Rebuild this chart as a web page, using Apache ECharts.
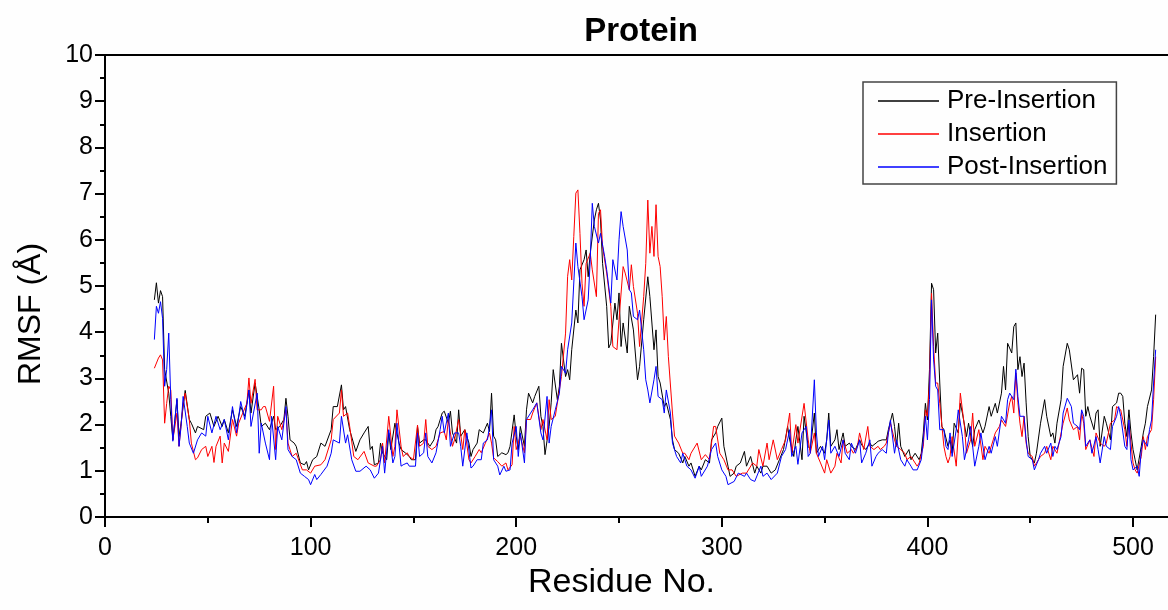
<!DOCTYPE html>
<html>
<head>
<meta charset="utf-8">
<script src="https://cdn.jsdelivr.net/npm/echarts@6/dist/echarts.min.js"></script>
<style>
html,body{margin:0;padding:0;background:#fefefe;}
#chart{width:1168px;height:610px;}
</style>
</head>
<body>
<div id="chart"></div>
<script>
const chartTitle = 'Protein';
const xAxisName = 'Residue No.';
const yAxisName = 'RMSF (\u00C5)';
const seriesNames = ['Pre-Insertion', 'Insertion', 'Post-Insertion'];
const xMajorTicks = [0, 100, 200, 300, 400, 500];
const xMinorTicks = [50, 150, 250, 350, 450];

const preInsertion = [[24,4.70],[25,5.07],[26,4.63],[27,4.90],[28,4.77],[29,3.19],[31,2.68],[32,2.18],[33,1.67],[35,2.54],[36,1.74],[37,2.03],[39,2.74],[41,2.11],[42,2.03],[44,1.82],[45,1.96],[48,1.89],[49,2.18],[51,2.25],[53,1.96],[55,2.18],[57,1.96],[58,2.11],[60,1.82],[62,2.32],[64,1.96],[66,2.39],[68,2.18],[70,2.75],[71,2.25],[73,2.90],[75,2.32],[76,1.96],[78,2.03],[80,1.89],[82,2.18],[83,1.89],[85,1.96],[87,2.11],[88,2.57],[89,2.18],[90,1.67],[92,1.60],[93,1.53],[95,1.17],[97,1.13],[98,1.20],[99,1.02],[101,1.24],[103,1.31],[105,1.60],[107,1.53],[110,1.89],[111,2.39],[113,2.39],[115,2.86],[116,2.32],[117,2.39],[119,1.89],[122,1.42],[124,1.67],[126,1.82],[128,1.96],[129,1.46],[130,1.53],[131,1.13],[133,1.17],[134,1.60],[135,1.39],[137,1.24],[138,1.82],[139,1.46],[141,2.03],[143,1.60],[144,1.46],[146,1.39],[148,1.31],[149,1.24],[151,1.24],[152,1.96],[153,1.60],[155,1.67],[156,1.67],[158,1.53],[160,1.67],[161,1.89],[162,1.96],[164,2.25],[165,2.29],[167,2.03],[168,2.29],[169,1.82],[171,1.60],[172,2.32],[173,1.75],[175,1.89],[177,1.60],[178,1.31],[179,1.46],[181,1.60],[182,1.89],[184,1.82],[186,2.03],[187,1.85],[188,2.68],[189,1.75],[190,1.67],[191,1.31],[193,1.39],[195,1.35],[196,1.39],[197,1.53],[199,2.21],[200,1.75],[201,1.46],[202,1.96],[204,1.53],[205,2.32],[206,2.68],[208,2.47],[209,2.61],[211,2.83],[212,2.18],[213,1.96],[214,1.35],[216,1.96],[217,2.47],[218,3.19],[220,2.54],[221,2.83],[222,3.76],[224,3.04],[225,3.19],[226,2.97],[227,3.62],[229,4.48],[230,4.20],[231,5.35],[233,5.57],[234,5.78],[235,5.20],[236,5.71],[238,6.43],[239,6.65],[240,6.79],[241,6.43],[242,5.49],[244,4.56],[245,3.66],[246,3.76],[248,4.63],[249,4.27],[250,4.85],[251,3.69],[252,4.20],[254,3.55],[255,4.56],[257,4.05],[259,2.97],[260,3.26],[262,4.27],[264,5.20],[265,4.77],[267,3.62],[268,4.05],[269,3.04],[270,2.90],[272,2.39],[273,2.47],[275,2.11],[276,1.67],[277,1.46],[279,1.38],[281,1.17],[282,1.31],[284,1.10],[285,1.17],[287,0.88],[289,1.10],[290,1.02],[292,1.24],[294,1.17],[295,1.67],[297,1.82],[298,1.96],[300,2.14],[301,1.53],[303,1.10],[304,0.88],[306,0.95],[307,1.10],[309,1.17],[311,1.42],[312,1.10],[314,1.31],[316,0.95],[317,1.10],[319,0.95],[320,1.10],[322,1.10],[324,0.95],[326,1.02],[328,1.24],[330,1.46],[332,1.96],[333,1.67],[335,1.31],[336,1.67],[337,1.96],[339,1.24],[340,2.18],[342,1.53],[343,1.46],[345,2.25],[346,1.38],[348,1.53],[350,1.38],[351,1.67],[352,2.25],[353,1.53],[355,1.67],[356,1.89],[357,1.46],[359,1.82],[360,1.53],[362,1.60],[363,1.53],[365,1.46],[367,1.67],[368,1.56],[370,1.46],[372,1.60],[373,1.53],[375,1.60],[376,1.64],[378,1.67],[380,1.67],[381,1.89],[383,2.25],[384,1.96],[385,1.53],[386,2.03],[387,1.53],[389,1.31],[391,1.46],[392,1.24],[394,1.38],[396,1.24],[397,1.38],[398,1.82],[399,2.46],[400,2.10],[401,3.19],[402,5.06],[403,4.92],[404,3.55],[405,3.98],[406,2.90],[407,1.96],[408,1.89],[410,1.53],[411,1.67],[412,1.38],[413,2.03],[415,1.82],[416,2.46],[417,2.25],[419,1.74],[420,2.03],[422,1.53],[423,1.89],[425,2.10],[427,1.82],[428,1.96],[430,2.39],[431,2.18],[433,2.46],[434,2.25],[436,2.68],[437,3.26],[438,2.75],[439,3.76],[441,3.55],[442,4.12],[443,4.20],[444,3.19],[445,3.47],[446,3.04],[447,3.33],[448,2.47],[449,1.74],[450,1.31],[452,1.17],[453,1.38],[455,2.03],[457,2.54],[458,2.18],[460,1.74],[461,1.82],[462,1.60],[463,2.03],[465,2.54],[466,3.26],[468,3.76],[469,3.62],[471,2.97],[473,3.08],[474,2.68],[475,3.22],[476,3.19],[477,2.18],[478,2.39],[479,2.18],[481,1.89],[482,2.25],[483,2.32],[484,1.53],[486,2.18],[487,2.03],[489,1.67],[490,2.39],[492,2.47],[493,2.68],[494,2.68],[495,2.61],[496,2.03],[497,1.74],[498,2.32],[499,1.82],[500,1.46],[501,1.24],[502,1.02],[504,1.53],[505,1.82],[506,2.03],[507,2.39],[509,2.75],[510,3.47],[511,4.38]];

const insertion = [[24,3.22],[26,3.44],[27,3.51],[28,3.40],[29,2.03],[30,2.46],[31,2.83],[32,2.75],[33,1.67],[35,2.25],[36,1.53],[38,2.46],[39,2.68],[41,2.11],[42,1.60],[44,1.24],[45,1.28],[47,1.46],[49,1.53],[50,1.31],[52,1.53],[53,1.18],[54,1.53],[56,1.75],[57,1.17],[58,1.60],[60,1.42],[62,2.11],[64,1.75],[65,2.03],[67,2.25],[69,2.46],[70,3.01],[71,2.46],[73,2.98],[74,2.32],[76,2.32],[77,2.39],[78,2.39],[80,2.07],[82,2.83],[83,1.46],[84,2.18],[86,1.89],[88,2.32],[89,1.60],[91,1.31],[93,1.38],[96,1.02],[98,1.02],[100,0.95],[102,1.10],[105,1.13],[107,1.24],[110,1.67],[111,2.11],[114,2.25],[115,2.75],[116,2.18],[118,2.25],[119,1.96],[121,1.31],[123,1.24],[126,1.42],[128,1.17],[131,1.10],[132,1.10],[134,1.24],[135,1.60],[136,1.17],[138,2.18],[140,1.31],[141,1.53],[142,2.32],[144,1.53],[145,1.31],[147,1.39],[148,1.31],[150,1.24],[152,1.99],[153,1.53],[155,1.60],[156,2.11],[157,1.53],[159,1.46],[161,1.53],[163,1.82],[165,1.85],[166,1.67],[167,2.11],[169,1.53],[170,1.67],[172,2.11],[174,1.46],[175,1.89],[177,1.24],[178,1.17],[180,1.31],[182,1.46],[183,1.39],[185,1.60],[187,1.82],[188,1.60],[189,1.28],[191,1.20],[193,1.10],[195,1.17],[196,1.02],[198,1.13],[199,1.96],[200,1.46],[202,1.75],[204,1.39],[205,2.11],[207,2.11],[208,2.25],[210,2.47],[212,1.89],[213,2.11],[215,1.67],[216,2.54],[217,2.11],[219,2.18],[221,2.75],[222,3.04],[224,3.98],[225,5.21],[226,5.57],[227,5.13],[228,6.07],[229,7.01],[230,7.08],[231,6.14],[232,5.06],[233,4.56],[234,5.49],[236,5.71],[237,5.35],[239,4.77],[240,6.57],[241,6.65],[242,5.85],[244,5.28],[246,4.56],[247,3.69],[249,3.62],[250,4.27],[252,5.42],[253,5.28],[255,4.92],[256,5.46],[257,4.99],[259,4.41],[260,3.69],[262,4.77],[263,5.49],[264,6.86],[265,5.71],[266,6.29],[267,5.64],[268,6.76],[269,5.64],[270,5.42],[271,4.77],[272,3.83],[273,4.34],[274,3.47],[276,2.25],[277,1.75],[279,1.60],[281,1.38],[282,1.38],[284,1.24],[285,1.38],[288,1.60],[290,1.24],[292,1.35],[294,1.24],[296,1.96],[297,1.96],[299,1.38],[301,1.24],[303,1.02],[305,1.02],[307,0.88],[310,0.95],[312,0.95],[315,1.17],[317,1.10],[318,1.46],[320,1.10],[322,1.60],[323,1.24],[325,1.67],[327,1.24],[329,1.46],[331,1.67],[333,2.25],[334,1.38],[336,2.00],[337,1.60],[340,2.46],[342,1.67],[343,1.38],[345,1.82],[346,1.38],[348,1.17],[350,0.95],[351,1.24],[353,0.95],[355,1.10],[356,1.38],[358,1.17],[359,1.67],[361,1.38],[363,1.46],[364,1.38],[366,1.53],[367,1.82],[369,1.46],[371,1.96],[372,1.53],[374,1.46],[376,1.53],[377,1.46],[379,1.53],[380,1.60],[382,2.03],[384,1.67],[385,1.53],[387,1.46],[389,1.38],[390,1.24],[392,1.31],[393,1.24],[395,1.10],[396,1.17],[398,1.53],[399,2.32],[400,2.18],[401,2.90],[402,4.84],[403,3.69],[404,2.90],[405,2.90],[406,2.46],[408,1.53],[409,1.31],[410,1.17],[411,1.31],[412,1.74],[414,1.10],[415,1.82],[416,2.68],[418,1.96],[419,1.38],[421,1.67],[422,2.25],[423,1.53],[425,1.89],[427,1.24],[428,1.53],[430,1.38],[432,1.67],[433,1.82],[435,1.96],[436,2.10],[438,1.96],[440,2.47],[441,2.61],[442,2.25],[443,3.12],[444,2.47],[445,2.03],[446,1.74],[447,2.18],[448,1.60],[449,1.38],[451,1.31],[452,1.10],[453,1.17],[455,1.31],[457,1.38],[458,1.53],[460,1.24],[461,1.53],[463,1.38],[464,1.60],[466,2.03],[468,2.36],[469,2.10],[471,1.89],[473,1.96],[474,1.67],[475,2.25],[476,2.03],[477,1.46],[479,1.67],[481,1.31],[482,1.82],[484,1.60],[486,1.53],[487,1.60],[489,2.03],[491,2.10],[492,2.39],[494,2.32],[496,1.89],[497,1.53],[498,2.03],[500,1.17],[501,1.02],[502,0.95],[504,1.31],[505,1.74],[506,1.46],[507,1.74],[509,1.89],[510,2.54],[511,3.47]];

const postInsertion = [[24,3.84],[25,4.56],[26,4.41],[27,4.66],[28,4.30],[29,2.83],[30,3.19],[31,3.98],[32,2.54],[33,1.64],[35,2.57],[36,1.53],[37,1.96],[38,2.61],[40,1.96],[41,1.60],[43,1.38],[45,1.67],[47,1.82],[49,1.75],[50,2.18],[52,1.82],[54,2.18],[56,1.89],[58,2.11],[60,1.67],[62,2.39],[64,1.82],[66,2.50],[68,2.11],[70,2.75],[71,1.96],[74,2.68],[75,1.38],[76,2.03],[78,1.60],[80,1.24],[81,2.18],[83,1.24],[84,1.96],[86,1.67],[88,2.39],[89,1.46],[91,1.31],[93,1.24],[95,0.95],[97,0.88],[99,0.81],[100,0.70],[102,0.92],[103,0.81],[105,0.92],[108,1.10],[110,1.38],[111,1.67],[114,1.60],[115,2.18],[117,1.60],[118,1.78],[120,1.24],[122,0.99],[124,0.99],[127,1.10],[129,1.02],[131,0.84],[133,0.95],[135,1.53],[136,0.95],[138,1.89],[140,1.17],[141,1.31],[142,2.03],[144,1.10],[145,1.13],[147,1.17],[148,1.10],[151,1.10],[152,1.82],[153,1.31],[155,1.39],[156,1.82],[157,1.31],[159,1.17],[161,1.39],[163,1.89],[164,2.18],[165,1.82],[167,2.25],[168,1.53],[170,1.82],[172,1.82],[173,1.53],[174,1.10],[176,1.82],[178,1.06],[179,1.10],[181,1.24],[183,1.24],[184,1.60],[186,1.67],[187,1.96],[188,2.32],[189,1.24],[191,1.10],[192,0.91],[194,1.10],[195,0.99],[197,1.02],[198,1.60],[200,1.96],[201,1.31],[202,1.82],[204,1.17],[205,2.11],[207,2.25],[208,2.32],[210,2.47],[212,1.82],[213,1.67],[215,2.61],[216,1.60],[217,1.96],[219,2.32],[221,2.68],[222,3.26],[224,3.11],[225,3.62],[227,4.20],[229,5.93],[230,5.42],[232,4.77],[233,4.27],[235,4.70],[236,5.57],[237,6.79],[238,6.29],[240,5.93],[241,6.14],[243,5.64],[244,5.35],[246,4.63],[247,5.57],[249,5.13],[250,6.00],[251,6.61],[252,6.29],[254,5.78],[255,4.92],[256,4.85],[257,4.34],[259,4.27],[260,4.48],[262,3.62],[263,2.97],[264,2.75],[265,2.47],[267,2.97],[268,3.26],[269,2.61],[271,2.54],[272,2.25],[273,2.75],[275,2.25],[276,1.60],[278,1.31],[280,1.17],[281,1.38],[283,1.10],[285,1.02],[287,0.84],[289,1.10],[290,0.88],[293,1.10],[295,1.46],[297,1.60],[298,1.31],[300,1.02],[302,0.88],[303,0.70],[306,0.77],[308,0.95],[311,0.88],[312,0.95],[314,0.81],[316,0.77],[319,1.10],[320,0.88],[322,0.95],[324,0.81],[327,0.95],[329,1.31],[331,1.46],[333,1.89],[334,1.31],[336,1.53],[337,1.14],[339,1.82],[341,1.96],[342,1.31],[343,1.38],[345,2.97],[346,1.82],[347,1.31],[349,1.53],[350,1.24],[352,2.10],[353,1.38],[355,1.53],[357,1.31],[359,1.67],[360,1.38],[362,1.24],[363,1.60],[365,1.38],[367,1.67],[368,1.17],[370,1.38],[372,1.67],[373,1.10],[375,1.31],[376,1.38],[378,1.46],[380,1.38],[381,1.82],[382,2.10],[384,1.38],[385,1.67],[387,1.24],[389,1.10],[390,1.24],[392,1.10],[393,1.02],[395,1.02],[397,1.24],[398,1.67],[399,2.18],[400,1.67],[401,2.54],[402,4.70],[403,3.40],[404,2.83],[405,2.75],[406,1.89],[408,1.89],[409,1.53],[410,1.46],[411,1.82],[412,1.31],[414,1.89],[415,2.32],[417,1.74],[418,1.24],[420,1.67],[421,1.96],[423,1.10],[425,1.53],[426,1.82],[428,1.24],[430,1.53],[431,1.38],[433,1.74],[434,1.53],[436,2.18],[438,2.03],[439,2.54],[440,2.68],[442,2.54],[443,3.20],[444,2.61],[445,2.18],[447,2.18],[448,1.67],[449,1.31],[451,1.24],[452,1.02],[454,1.24],[455,1.38],[457,1.53],[458,1.38],[460,1.60],[461,1.31],[462,1.53],[463,1.46],[465,1.74],[466,2.25],[468,2.57],[470,2.39],[471,2.03],[473,1.96],[474,1.89],[475,2.32],[476,2.18],[477,1.53],[479,1.67],[480,1.38],[482,1.74],[483,1.46],[484,1.17],[486,1.74],[487,1.53],[489,1.46],[490,1.96],[492,2.18],[493,2.39],[494,2.18],[496,1.53],[497,1.46],[498,2.10],[499,1.24],[500,1.02],[502,1.10],[503,0.88],[504,1.46],[505,1.67],[507,1.53],[508,1.89],[509,2.10],[510,2.90],[511,3.62]];

const FONT = '"Liberation Sans", Arial, sans-serif';
const chart = echarts.init(document.getElementById('chart'), null, {renderer: 'canvas'});
const lineSeries = (name, data, color) => ({
  name, type: 'line', data, xAxisIndex: 0, yAxisIndex: 0,
  symbol: 'none', smooth: false, animation: false,
  lineStyle: {color, width: 1}, itemStyle: {color}
});
chart.setOption({
  backgroundColor: '#fefefe',
  animation: false,
  title: {
    text: chartTitle, left: 636, top: 10, textAlign: 'center',
    textStyle: {fontFamily: FONT, fontSize: 33, fontWeight: 'bold', color: '#000'}
  },
  legend: {
    orient: 'vertical', left: 863, top: 82,
    icon: 'rect', itemWidth: 61, itemHeight: 1.5, itemGap: 7,
    padding: [6, 9, 4, 15],
    borderColor: '#444', borderWidth: 1.5,
    textStyle: {fontFamily: FONT, fontSize: 26, color: '#000', padding: [0, 0, 0, 3], lineHeight: 26},
    data: seriesNames
  },
  grid: {left: 105, right: 0, top: 55, bottom: 93, containLabel: false},
  xAxis: [
    {
      type: 'value', min: 0, max: 517, position: 'bottom',
      name: xAxisName, nameLocation: 'middle', nameGap: 49,
      nameTextStyle: {fontFamily: FONT, fontSize: 34, color: '#000', padding: [0, 30, 0, 0]},
      axisLine: {show: true, onZero: false, lineStyle: {color: '#000', width: 2}},
      axisTick: {show: true, customValues: xMajorTicks, length: 10, lineStyle: {color: '#000', width: 2}},
      axisLabel: {show: true, customValues: xMajorTicks, margin: 19, fontFamily: FONT, fontSize: 25, color: '#000'},
      splitLine: {show: false}
    },
    {
      type: 'value', min: 0, max: 517, position: 'bottom',
      axisLine: {show: false},
      axisTick: {show: true, customValues: xMinorTicks, length: 6, lineStyle: {color: '#000', width: 2}},
      axisLabel: {show: false},
      splitLine: {show: false}
    },
    {
      type: 'value', min: 0, max: 517, position: 'top',
      axisLine: {show: true, onZero: false, lineStyle: {color: '#000', width: 2}},
      axisTick: {show: false}, axisLabel: {show: false}, splitLine: {show: false}
    }
  ],
  yAxis: {
    type: 'value', min: 0, max: 10, interval: 1,
    name: yAxisName, nameLocation: 'middle', nameGap: 58,
    nameTextStyle: {fontFamily: FONT, fontSize: 32, color: '#000', padding: [0, 56, 0, 0]},
    axisLine: {show: true, onZero: false, lineStyle: {color: '#000', width: 2}},
    axisTick: {show: true, length: 10, lineStyle: {color: '#000', width: 2}},
    minorTick: {show: true, splitNumber: 2, length: 5, lineStyle: {color: '#000', width: 2}},
    axisLabel: {margin: 12, fontFamily: FONT, fontSize: 25, color: '#000'},
    splitLine: {show: false}, minorSplitLine: {show: false}
  },
  series: [
    lineSeries(seriesNames[0], preInsertion, '#000000'),
    lineSeries(seriesNames[1], insertion, '#ff0000'),
    lineSeries(seriesNames[2], postInsertion, '#0000ff')
  ]
});
</script>
</body>
</html>
